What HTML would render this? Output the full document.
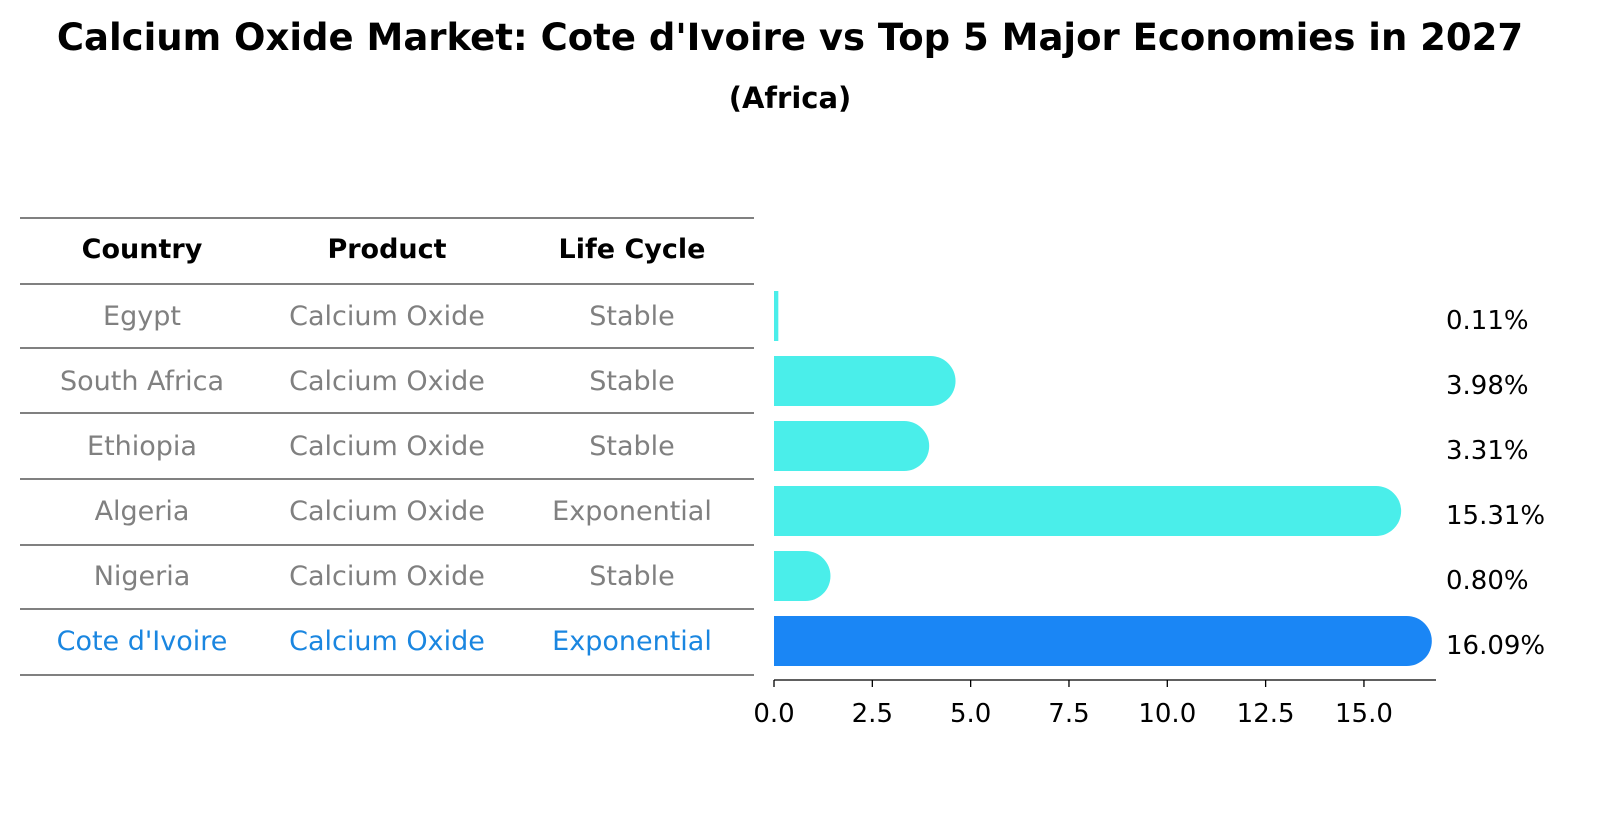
<!DOCTYPE html>
<html><head><meta charset="utf-8"><style>
body{margin:0;background:#fff;font-family:"Liberation Sans","DejaVu Sans",sans-serif;}
</style></head><body>
<svg width="1604" height="823" xmlns="http://www.w3.org/2000/svg" font-family="DejaVu Sans, Liberation Sans, sans-serif">
<text x="790" y="50" text-anchor="middle" font-size="37" font-weight="bold">Calcium Oxide Market: Cote d'Ivoire vs Top 5 Major Economies in 2027</text>
<text x="790" y="108" text-anchor="middle" font-size="29" font-weight="bold">(Africa)</text>
<g id="table"></g>
<g id="bars"></g>
</svg>
<script>
const countries=["Egypt","South Africa","Ethiopia","Algeria","Nigeria","Cote d'Ivoire"];
const products=["Calcium Oxide","Calcium Oxide","Calcium Oxide","Calcium Oxide","Calcium Oxide","Calcium Oxide"];
const lifeCycles=["Stable","Stable","Stable","Exponential","Stable","Exponential"];
const shares=[0.11,3.98,3.31,15.31,0.80,16.09];
const ticks=[0,2.5,5,7.5,10,12.5,15];
const NS="http://www.w3.org/2000/svg";
const rowY=i=>315+i*65;
const xs=v=>774+v*39.33;
function mk(tag,attrs,parent){const e=document.createElementNS(NS,tag);for(const k in attrs)e.setAttribute(k,attrs[k]);parent.appendChild(e);return e;}
const tbl=document.getElementById('table'), bars=document.getElementById('bars');
const lines=[218,284,348,413,479,545,609,675];
lines.forEach(y=>{const l=mk('line',{x1:20,x2:754,y1:y,y2:y,stroke:'#000','stroke-width':1},tbl);

});
const cols=[142,387,632];
["Country","Product","Life Cycle"].forEach((h,j)=>{const t=mk('text',{x:cols[j],y:258,'text-anchor':'middle','font-size':27,'font-weight':'bold'},tbl);t.textContent=h;

});
countries.forEach((c,i)=>{const col=i===countries.length-1?'#1a86e0':'#808080';
[c,products[i],lifeCycles[i]].forEach((v,j)=>{const t=mk('text',{x:cols[j],y:rowY(i)+10,'text-anchor':'middle','font-size':27,fill:col},tbl);t.textContent=v;

});
const fill=i===countries.length-1?'#1a86f5':'#4aeeea';
const cy=rowY(i)+1, h=50, x1=xs(shares[i]);
const g=mk('g',{},bars);


if(shares[i]<0.5){mk('rect',{x:774,y:cy-h/2,width:Math.max(4,x1-774),height:h,fill:fill},g);}
else{mk('path',{d:`M774 ${cy-h/2} H${x1} A25 25 0 0 1 ${x1} ${cy+h/2} H774 Z`,fill:fill},g);}
const lb=mk('text',{x:1446,y:rowY(i)+14,'font-size':26},bars);lb.textContent=shares[i].toFixed(2)+'%';


});
const ax=mk('line',{x1:774,x2:1436,y1:680,y2:680,stroke:'#000','stroke-width':1.3},bars);


ticks.forEach(t=>{const l=mk('line',{x1:xs(t),x2:xs(t),y1:680,y2:687,stroke:'#000','stroke-width':1.3},bars);


const tx=mk('text',{x:xs(t),y:722,'text-anchor':'middle','font-size':26},bars);tx.textContent=t.toFixed(1);

});
</script>
</body></html>
